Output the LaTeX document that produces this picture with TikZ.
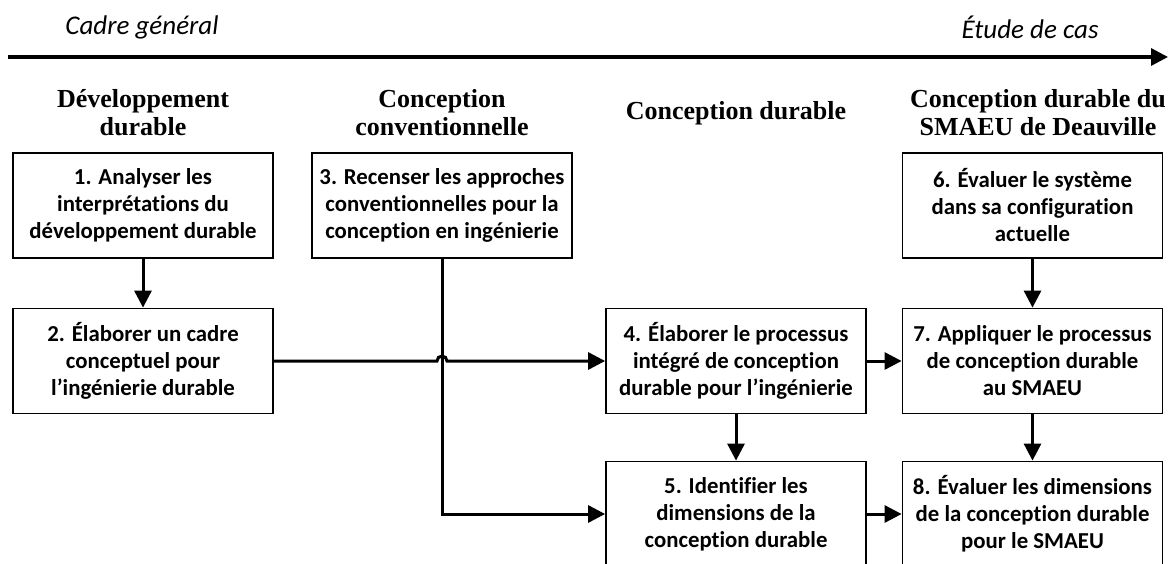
\documentclass[tikz,border=0pt]{standalone}
\usepackage{fontspec}
\setmainfont{Carlito}[Ligatures=NoCommon]
\newfontfamily\headfont{Liberation Serif}
\usetikzlibrary{arrows.meta,calc}

\tikzset{
  stepbox/.style={draw, line width=1.8pt, minimum width=260pt, minimum height=105pt,
    align=center, inner sep=0pt, font=\fontsize{22.8}{27}\selectfont\bfseries},
  heading/.style={align=center, font=\headfont\fontsize{26}{28}\selectfont\bfseries},
  phase/.style={font=\fontsize{27}{30}\selectfont\itshape},
  link/.style={line width=3pt, -{Triangle[length=17pt,width=17pt]}},
}

\begin{document}
\begin{tikzpicture}[x=1pt, y=-1pt]
  \useasboundingbox (0,0) rectangle (1169,564);

  % time axis
  \node[phase] (gen) at (142,27) {Cadre général};
  \node[phase] (cas) at (1030,27) {Étude de cas};
  \coordinate (t0) at (8,57);
  \coordinate (t1) at (1168,57);
  \draw[line width=3.2pt, -{Triangle[length=17pt,width=17pt]}] (t0) -- (t1);

  % column headings
  \node[heading] (h1) at (143,113) {Développement\\durable};
  \node[heading] (h2) at (442,113) {Conception\\conventionnelle};
  \node[heading] (h3) at (736,113) {Conception durable};
  \node[heading] (h4) at (1038,113) {Conception durable du\\SMAEU de Deauville};

  % steps
  \node[stepbox] (b1) at (143,205.5) {1. Analyser les\\interprétations du\\développement durable};
  \node[stepbox] (b2) at (143,361) {2. Élaborer un cadre\\conceptuel pour\\l’ingénierie durable};
  \node[stepbox] (b3) at (442,205.5) {3. Recenser les approches\\conventionnelles pour la\\conception en ingénierie};
  \node[stepbox] (b4) at (736,361) {4. Élaborer le processus\\intégré de conception\\durable pour l’ingénierie};
  \node[stepbox] (b5) at (736,514) {5. Identifier les\\dimensions de la\\conception durable};
  \node[stepbox] (b6) at (1032.5,205.5) {6. Évaluer le système\\dans sa configuration\\actuelle};
  \node[stepbox] (b7) at (1032.5,361) {7. Appliquer le processus\\de conception durable\\au SMAEU};
  \node[stepbox] (b8) at (1032.5,514) {8. Évaluer les dimensions\\de la conception durable\\pour le SMAEU};

  % connectors
  \draw[link] (b1) -- (b2);
  \draw[link] (b2.east) -- ($(b2.east -| b3.south)+(-5,0)$)
      arc[start angle=180, end angle=360, radius=5] -- (b4.west);
  \draw[link] (b3.south) |- (b5.west);
  \draw[link] (b4) -- (b5);
  \draw[link] (b4) -- (b7);
  \draw[link] (b5) -- (b8);
  \draw[link] (b6) -- (b7);
  \draw[link] (b7) -- (b8);
\end{tikzpicture}
\end{document}
